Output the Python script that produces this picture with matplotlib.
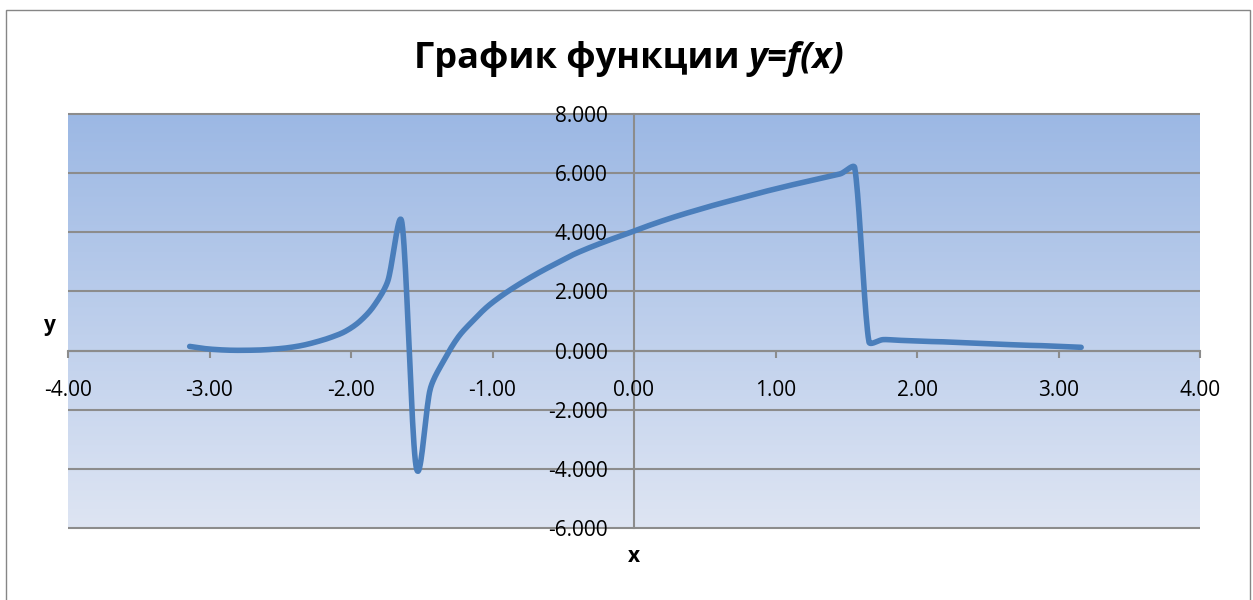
import matplotlib
matplotlib.use("Agg")
import numpy as np
from matplotlib import pyplot as plt
from matplotlib.colors import LinearSegmentedColormap
from matplotlib.patches import Rectangle

# sampled function values, step 0.1 from -3.14
x_vals = [-3.14, -3.04, -2.94, -2.84, -2.74, -2.64, -2.54, -2.44, -2.34, -2.24,
          -2.14, -2.04, -1.94, -1.84, -1.74, -1.64, -1.54, -1.44, -1.34, -1.24,
          -1.14, -1.04, -0.94, -0.84, -0.74, -0.64, -0.54, -0.44, -0.34, -0.24,
          -0.14, -0.04, 0.06, 0.16, 0.26, 0.36, 0.46, 0.56, 0.66, 0.76,
          0.86, 0.96, 1.06, 1.16, 1.26, 1.36, 1.46, 1.56, 1.66, 1.76,
          1.86, 1.96, 2.06, 2.16, 2.26, 2.36, 2.46, 2.56, 2.66, 2.76,
          2.86, 2.96, 3.06, 3.16]
y_vals = [0.14, 0.07, 0.03, 0.01, 0.01, 0.02, 0.05, 0.10, 0.18, 0.30,
          0.45, 0.65, 0.98, 1.50, 2.35, 4.32, -3.92, -1.30, -0.30, 0.47,
          1.00, 1.47, 1.84, 2.16, 2.45, 2.72, 2.97, 3.22, 3.43, 3.62,
          3.80, 3.97, 4.15, 4.32, 4.48, 4.63, 4.77, 4.91, 5.04, 5.17,
          5.30, 5.42, 5.54, 5.65, 5.76, 5.87, 5.98, 6.18, 0.30, 0.37,
          0.35, 0.33, 0.31, 0.30, 0.28, 0.26, 0.24, 0.22, 0.20, 0.18,
          0.17, 0.15, 0.13, 0.11]

x_ticks = [-4, -3, -2, -1, 0, 1, 2, 3, 4]
y_ticks = [-6, -4, -2, 0, 2, 4, 6, 8]

W, H = 1253, 600
FONT = "Open Sans"
GRID = "#8c8c8c"


def smooth(ax, xs, ys, n=20):
    # smoothed line in screen space: cubic Bezier, tangent along the
    # neighbour chord (chord/6), handle capped at a third of the segment
    p = ax.transData.transform(np.column_stack([xs, ys]))
    p = np.vstack([p[0], p, p[-1]])
    t = np.linspace(0, 1, n, endpoint=False)[:, None]

    def handle(chord, seg_len):
        norm = np.hypot(*chord)
        if norm == 0:
            return chord
        return chord / norm * min(norm / 6, seg_len / 3)

    out = []
    for i in range(1, len(p) - 2):
        p0, p1, p2, p3 = p[i - 1], p[i], p[i + 1], p[i + 2]
        seg_len = np.hypot(*(p2 - p1))
        c1 = p1 + handle(p2 - p0, seg_len)
        c2 = p2 - handle(p3 - p1, seg_len)
        seg = ((1 - t) ** 3 * p1 + 3 * (1 - t) ** 2 * t * c1
               + 3 * (1 - t) * t ** 2 * c2 + t ** 3 * p2)
        out.append(seg)
    out.append(p[-2][None, :])
    out = ax.transData.inverted().transform(np.vstack(out))
    return out[:, 0], out[:, 1]


fig = plt.figure(figsize=(W / 100, H / 100), dpi=100)
fig.patches.append(Rectangle((6 / W, -0.05), 1244 / W, 1 - 10 / H + 0.05,
                             transform=fig.transFigure, fill=False,
                             edgecolor="#868686", lw=1.0))

ax = fig.add_axes([68 / W, 72 / H, 1132 / W, 414 / H])
ax.set_xlim(x_ticks[0], x_ticks[-1])
ax.set_ylim(y_ticks[0], y_ticks[-1])

# vertical gradient fill of the plot area
cmap = LinearSegmentedColormap.from_list("bg", ["#dee5f3", "#9cb8e4"])
grad = np.linspace(0, 1, 256)[:, None]
ax.imshow(grad, extent=[x_ticks[0], x_ticks[-1], y_ticks[0], y_ticks[-1]],
          origin="lower", aspect="auto", cmap=cmap, zorder=0)

ax.hlines(y_ticks, x_ticks[0], x_ticks[-1], colors=GRID, lw=1.5,
          clip_on=False, zorder=1)

for s in ["top", "right"]:
    ax.spines[s].set_visible(False)
ax.spines["left"].set_position(("data", 0))
ax.spines["bottom"].set_position(("data", 0))
for s in ["left", "bottom"]:
    ax.spines[s].set_color(GRID)
    ax.spines[s].set_linewidth(1.5)
    ax.spines[s].set_zorder(1.5)

ax.set_xticks(x_ticks)
ax.set_xticklabels([f"{v:.2f}" for v in x_ticks])
ax.set_yticks(y_ticks)
ax.set_yticklabels([f"{v:.3f}" for v in y_ticks])
ax.tick_params(axis="x", direction="out", length=5, width=1.5, color=GRID,
               pad=16, labelsize=15)
ax.tick_params(axis="y", length=0, pad=19, labelsize=15)
for lab in ax.get_xticklabels() + ax.get_yticklabels():
    lab.set_fontfamily(FONT)

sx, sy = smooth(ax, x_vals, y_vals)
ax.plot(sx, sy, color="#4a7ebb", lw=4.0, solid_capstyle="round",
        solid_joinstyle="round", zorder=3)

# title: regular part in bold, the formula in bold italic
t1 = fig.text(0, 1 - 59 / H, "График функции", fontsize=26, weight="bold",
              family=FONT, va="center", ha="left")
t2 = fig.text(0, 1 - 59 / H, "y=f(x)", fontsize=26, weight="bold",
              style="italic", family=FONT, va="center", ha="left")
fig.canvas.draw()
r = fig.canvas.get_renderer()
w1 = t1.get_window_extent(r).width
w2 = t2.get_window_extent(r).width
gap = 9
start = 629 - (w1 + gap + w2) / 2
t1.set_x(start / W)
t2.set_x((start + w1 + gap) / W)

fig.text(50 / W, 1 - 325 / H, "y", fontsize=15, weight="bold", family=FONT,
         ha="center", va="center")
fig.text(634 / W, 1 - 557 / H, "x", fontsize=15, weight="bold", family=FONT,
         ha="center", va="center")

fig.savefig("out.png", dpi=100)
